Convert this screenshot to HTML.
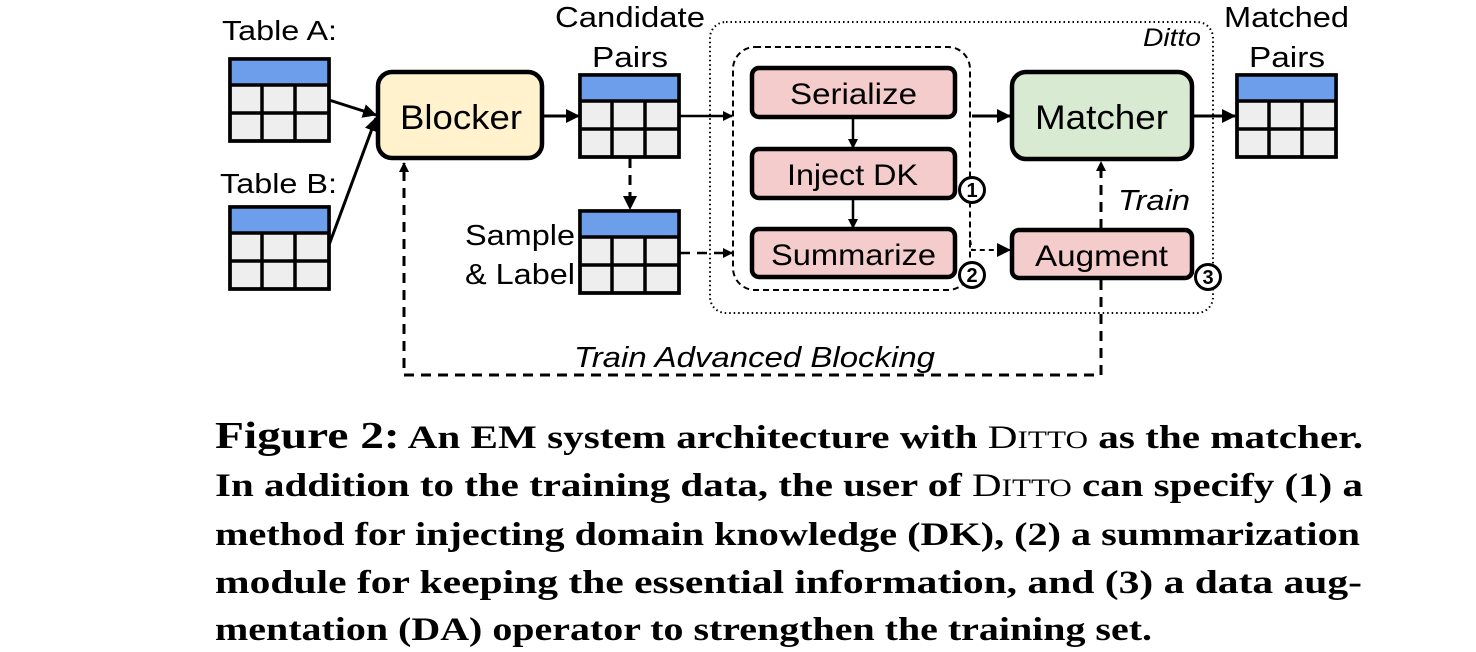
<!DOCTYPE html>
<html><head><meta charset="utf-8"><style>
html,body{margin:0;padding:0;background:#fff;}
svg{display:block;}
.s{font-family:"Liberation Sans",sans-serif;fill:#000;}
.c{font-family:"Liberation Serif",serif;font-weight:bold;font-size:33px;fill:#000;}
</style></head><body>
<svg width="1476" height="652" viewBox="0 0 1476 652" xmlns="http://www.w3.org/2000/svg">
<defs>
<marker id="ah" markerWidth="10" markerHeight="10" refX="9" refY="5" orient="auto" markerUnits="userSpaceOnUse"><path d="M0,0 L10,5 L0,10 z" fill="#000"/></marker>
<marker id="ah2" markerWidth="14" markerHeight="14" refX="13" refY="7" orient="auto" markerUnits="userSpaceOnUse"><path d="M0,0 L14,7 L0,14 z" fill="#000"/></marker>
<g id="tbl">
<rect x="0" y="0" width="99" height="82" fill="#eeeeee" stroke="#000" stroke-width="3.5"/>
<rect x="1.5" y="1.5" width="96" height="24" fill="#6d9eeb"/>
<path d="M0,26 H99 M0,54 H99 M32,26 V82 M65,26 V82" stroke="#000" stroke-width="3.5"/>
<rect x="0" y="0" width="99" height="82" fill="none" stroke="#000" stroke-width="3.5"/>
</g>
</defs>

<text class="s" x="222" y="40" font-size="28" textLength="115" lengthAdjust="spacingAndGlyphs">Table A:</text>
<text class="s" x="220" y="193" font-size="28" textLength="117" lengthAdjust="spacingAndGlyphs">Table B:</text>
<text class="s" x="555" y="27" font-size="29" textLength="150" lengthAdjust="spacingAndGlyphs">Candidate</text>
<text class="s" x="592" y="67" font-size="29" textLength="76" lengthAdjust="spacingAndGlyphs">Pairs</text>
<text class="s" x="465" y="245" font-size="29" textLength="110" lengthAdjust="spacingAndGlyphs">Sample</text>
<text class="s" x="465" y="284" font-size="29" textLength="110" lengthAdjust="spacingAndGlyphs">&amp; Label</text>
<text class="s" x="1224" y="27" font-size="29" textLength="125" lengthAdjust="spacingAndGlyphs">Matched</text>
<text class="s" x="1249" y="67" font-size="29" textLength="76" lengthAdjust="spacingAndGlyphs">Pairs</text>

<use href="#tbl" x="230" y="59"/>
<use href="#tbl" x="230" y="207"/>
<use href="#tbl" x="580" y="75"/>
<use href="#tbl" x="580" y="211"/>
<use href="#tbl" x="1237" y="75"/>

<rect x="710" y="22" width="503" height="291" rx="16" fill="none" stroke="#000" stroke-width="2" stroke-dasharray="1.5,3"/>
<text class="s" x="1143" y="46" font-size="25" font-style="italic" textLength="58" lengthAdjust="spacingAndGlyphs">Ditto</text>
<rect x="733" y="47" width="237" height="243" rx="22" fill="none" stroke="#000" stroke-width="2" stroke-dasharray="6,4"/>

<rect x="378" y="72" width="164" height="86" rx="14" fill="#fff2cc" stroke="#000" stroke-width="4.5"/>
<text class="s" x="400" y="129" font-size="34" textLength="122" lengthAdjust="spacingAndGlyphs">Blocker</text>

<rect x="752" y="68" width="203" height="49" rx="7" fill="#f4cccc" stroke="#000" stroke-width="4.5"/>
<text class="s" x="790" y="104" font-size="30" textLength="127" lengthAdjust="spacingAndGlyphs">Serialize</text>
<rect x="752" y="149" width="203" height="49" rx="7" fill="#f4cccc" stroke="#000" stroke-width="4.5"/>
<text class="s" x="787" y="185" font-size="30" textLength="131" lengthAdjust="spacingAndGlyphs">Inject DK</text>
<rect x="752" y="229" width="203" height="48" rx="7" fill="#f4cccc" stroke="#000" stroke-width="4.5"/>
<text class="s" x="771" y="265" font-size="30" textLength="165" lengthAdjust="spacingAndGlyphs">Summarize</text>
<rect x="1012" y="230" width="180" height="48" rx="7" fill="#f4cccc" stroke="#000" stroke-width="4.5"/>
<text class="s" x="1035" y="266" font-size="30" textLength="133" lengthAdjust="spacingAndGlyphs">Augment</text>

<rect x="1012" y="72" width="180" height="87" rx="14" fill="#d9ead3" stroke="#000" stroke-width="4.5"/>
<text class="s" x="1035" y="129" font-size="34" textLength="133" lengthAdjust="spacingAndGlyphs">Matcher</text>

<g font-family="'Liberation Sans',sans-serif" font-weight="bold" font-size="20" text-anchor="middle">
<circle cx="972" cy="190" r="12.5" fill="#fff" stroke="#000" stroke-width="3"/><text x="972" y="197">1</text>
<circle cx="972" cy="275" r="12.5" fill="#fff" stroke="#000" stroke-width="3"/><text x="972" y="282">2</text>
<circle cx="1208" cy="277" r="12.5" fill="#fff" stroke="#000" stroke-width="3"/><text x="1208" y="284">3</text>
</g>

<g stroke="#000" stroke-width="3" fill="none">
<line x1="329" y1="100" x2="376" y2="115" marker-end="url(#ah2)"/>
<line x1="329" y1="245" x2="376" y2="118" marker-end="url(#ah2)"/>
<line x1="543" y1="116" x2="579" y2="116" marker-end="url(#ah2)"/>
<line x1="679" y1="116" x2="732" y2="116" stroke-width="2.5" marker-end="url(#ah)"/>
<line x1="972" y1="116" x2="1010" y2="116" marker-end="url(#ah2)"/>
<line x1="1192" y1="116" x2="1235" y2="116" marker-end="url(#ah2)"/>
<line x1="853" y1="118" x2="853" y2="148" stroke-width="2.5" marker-end="url(#ah)"/>
<line x1="853" y1="199" x2="853" y2="228" stroke-width="2.5" marker-end="url(#ah)"/>
</g>
<g stroke="#000" stroke-width="3" fill="none" stroke-dasharray="10,7">
<line x1="630" y1="158" x2="630" y2="209" marker-end="url(#ah2)"/>
<line x1="680" y1="253" x2="732" y2="253" stroke-width="2.5" marker-end="url(#ah)"/>
<polyline points="970,240 972,250 1010,250" stroke-width="2" stroke-dasharray="5,4" marker-end="url(#ah2)"/>
<line x1="1101" y1="229" x2="1101" y2="162" marker-end="url(#ah)"/>
<polyline points="1101,280 1101,375 404,375 404,163" marker-end="url(#ah)"/>
</g>
<text class="s" x="1118" y="210" font-size="29" font-style="italic" textLength="72" lengthAdjust="spacingAndGlyphs">Train</text>
<text class="s" x="574" y="367" font-size="29" font-style="italic" textLength="361" lengthAdjust="spacingAndGlyphs">Train Advanced Blocking</text>

<text class="c" x="215" y="448" textLength="1148" lengthAdjust="spacingAndGlyphs"><tspan font-size="38">Figure 2:</tspan> An EM system architecture with <tspan font-weight="normal">D<tspan font-size="25">ITTO</tspan></tspan> as the matcher.</text>
<text class="c" x="215" y="496" textLength="1148" lengthAdjust="spacingAndGlyphs">In addition to the training data, the user of <tspan font-weight="normal">D<tspan font-size="25">ITTO</tspan></tspan> can specify (1) a</text>
<text class="c" x="215" y="545" textLength="1145" lengthAdjust="spacingAndGlyphs">method for injecting domain knowledge (DK), (2) a summarization</text>
<text class="c" x="215" y="593" textLength="1147" lengthAdjust="spacingAndGlyphs">module for keeping the essential information, and (3) a data aug-</text>
<text class="c" x="215" y="640" textLength="937" lengthAdjust="spacingAndGlyphs">mentation (DA) operator to strengthen the training set.</text>
</svg>
</body></html>
